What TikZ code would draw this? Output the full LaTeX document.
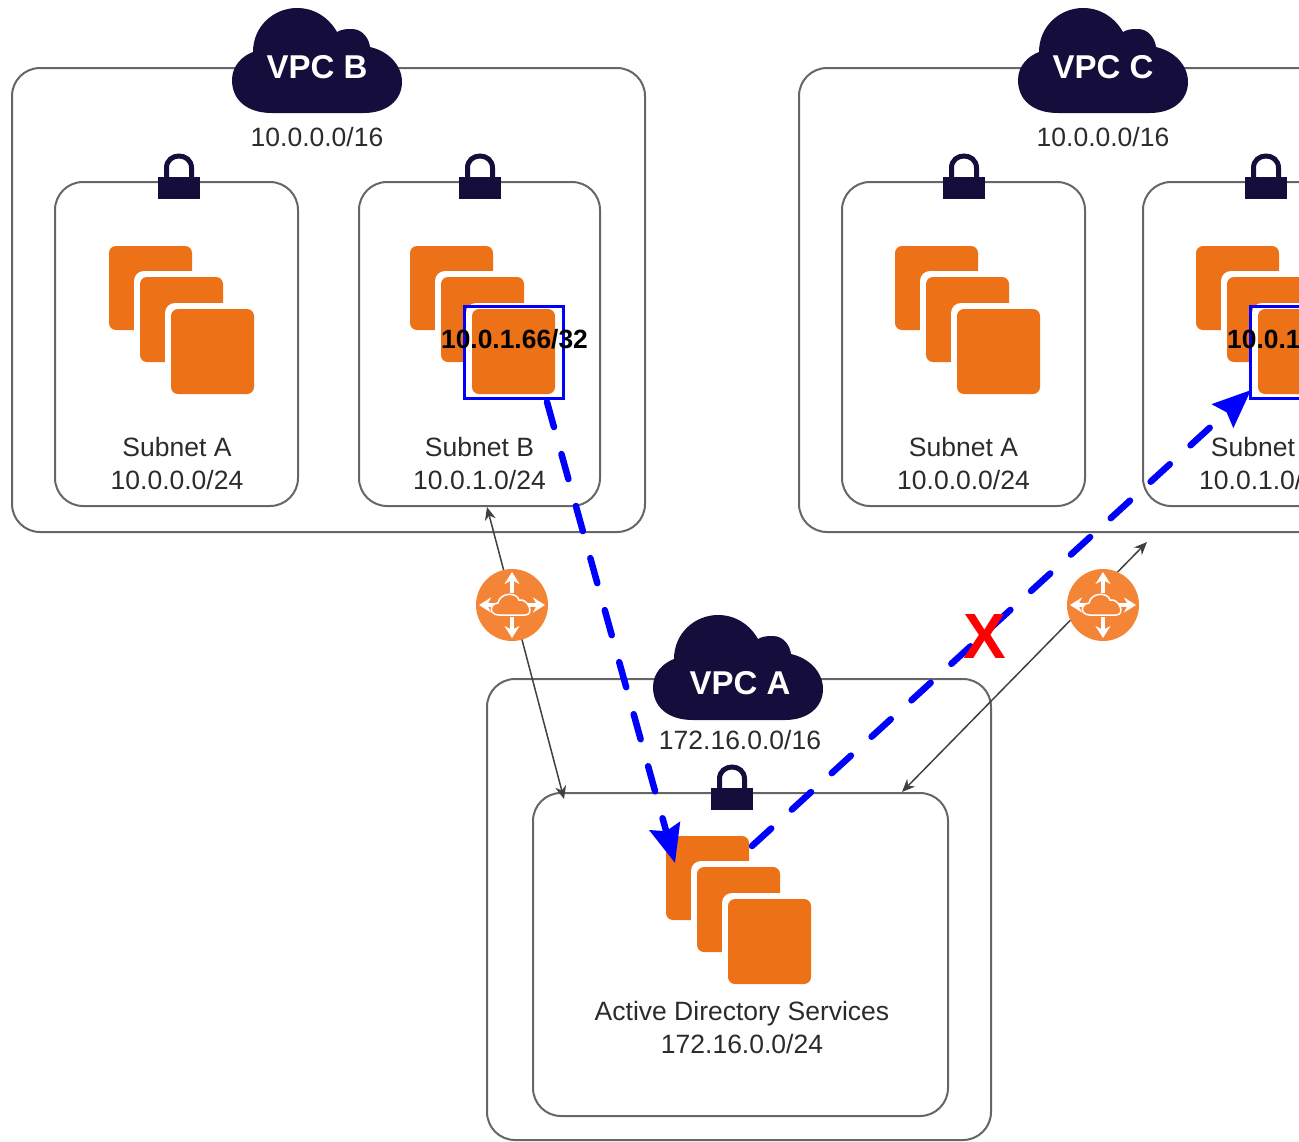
\documentclass[tikz,border=0pt]{standalone}
\usepackage{fontspec}
\setmainfont{Liberation Sans}
\usetikzlibrary{arrows.meta}
\definecolor{navy}{HTML}{150E3D}
\definecolor{ec2}{HTML}{ED7117}
\definecolor{routerfill}{HTML}{F58536}
\definecolor{boxline}{HTML}{666666}
\definecolor{txt}{HTML}{2B2B2B}
\tikzset{
  x=1pt,y=-1pt,
  boxnode/.style={draw=boxline,line width=2pt,rounded corners=28pt,inner sep=0pt,outer sep=0pt},
  lbl/.style={font=\fontsize{26.5}{33}\selectfont,text=txt,align=center,inner sep=0pt},
  vpclbl/.style={font=\fontsize{33}{36}\selectfont\bfseries,text=white,inner sep=0pt},
  iplbl/.style={font=\fontsize{26.4}{30}\selectfont\bfseries,text=black,inner sep=0pt},
  square/.style={fill=ec2,rounded corners=7pt},
  halo/.style={fill=white,rounded corners=10pt},
  link/.style={draw=black!75,line width=1.5pt,{Stealth[length=13pt,width=11pt]}-{Stealth[length=13pt,width=11pt]}},
  flow/.style={draw=blue,line width=6.5pt,line cap=round,dash pattern=on 26pt off 28pt,-{Stealth[length=38pt,width=31pt,inset=5pt]}},
  selbox/.style={draw=blue,line width=3pt,inner sep=0pt,minimum width=99pt,minimum height=92pt},
  routernode/.style={circle,fill=routerfill,inner sep=0pt,minimum size=72pt},
  vpccloud/.pic={
    \fill[navy] (40,105) .. controls (15,105) and (0,92) .. (0,72)
      .. controls (0,58) and (10,48) .. (21,44)
      .. controls (21,18) and (42,0) .. (65,0)
      .. controls (83,0) and (97,10) .. (105,24)
      .. controls (110,21) and (115,21) .. (120,21)
      .. controls (130,21) and (137,30) .. (138,39)
      .. controls (156,43) and (170,57) .. (170,74)
      .. controls (170,92) and (155,105) .. (132,105) -- cycle;
  },
  padlock/.pic={
    \fill[navy] (-21,1) rectangle (21,23);
    \draw[navy,line width=5pt] (-12.5,2) -- (-12.5,-8) .. controls (-12.5,-24) and (12.5,-24) .. (12.5,-8) -- (12.5,2);
  },
  instancestack/.pic={
    \fill[square] (0,0) rectangle (83,84);
    \fill[halo] (25,25) rectangle (120,123);
    \fill[square] (31,31) rectangle (114,116);
    \fill[halo] (56,57) rectangle (151,155);
    \fill[square] (62,63) rectangle (145,148);
  },
  routerglyph/.pic={
    \foreach \a/\b in {0/-1,0/1,-1/0,1/0}{
      \draw[white,line width=3.2pt,-{Stealth[length=12pt,width=15pt]}] (12*\a,12*\b) -- (33*\a,33*\b);
    }
    \draw[white,line width=1.5pt,fill=routerfill] (-13,10) .. controls (-23,10) and (-23,-1) .. (-14,-2)
      .. controls (-12,-13) and (5,-13) .. (7,-5)
      .. controls (16,-7) and (23,10) .. (13,10) -- cycle;
  }
}
\begin{document}
\begin{tikzpicture}
\path[clip] (0,0) rectangle (1299,1141);

% outer VPC boxes
\node[boxnode,minimum width=633pt,minimum height=464pt] (vpcb) at (328.5,300) {};
\node[boxnode,minimum width=633pt,minimum height=464pt] (vpcc) at (1115.5,300) {};
\node[boxnode,minimum width=504pt,minimum height=461pt] (vpca) at (739,909.5) {};

% subnet boxes
\node[boxnode,minimum width=243pt,minimum height=324pt] (subba) at (176.5,344) {};
\node[boxnode,minimum width=241pt,minimum height=324pt] (subbb) at (479.5,344) {};
\node[boxnode,minimum width=243pt,minimum height=324pt] (subca) at (963.5,344) {};
\node[boxnode,minimum width=241pt,minimum height=324pt] (subcb) at (1263.5,344) {};
\node[boxnode,minimum width=415pt,minimum height=323pt] (subaa) at (740.5,954.5) {};

% instances
\pic at (109,246) {instancestack};
\pic at (410,246) {instancestack};
\pic at (895,246) {instancestack};
\pic at (1196,246) {instancestack};
\pic at (666,836) {instancestack};

% selected instance frames
\node[selbox] (selb) at (514,352.5) {};
\node[selbox] (selc) at (1300,352.5) {};

% clouds
\pic at (232,8) {vpccloud};
\pic at (1018,8) {vpccloud};
\pic at (653,615) {vpccloud};
\node[vpclbl] (nameb) at (317,67) {VPC B};
\node[vpclbl] (namec) at (1103,67) {VPC C};
\node[vpclbl] (namea) at (740,683) {VPC A};

% locks
\pic at (179,176) {padlock};
\pic at (480,176) {padlock};
\pic at (964,176) {padlock};
\pic at (1266,176) {padlock};
\pic at (732,787) {padlock};

% labels
\node[lbl] (cidrb) at (317,137) {10.0.0.0/16};
\node[lbl] (cidrc) at (1103,137) {10.0.0.0/16};
\node[lbl] (cidra) at (740,740) {172.16.0.0/16};
\node[lbl] (lba) at (177,463.5) {Subnet A\\10.0.0.0/24};
\node[lbl] (lbb) at (479.5,463.5) {Subnet B\\10.0.1.0/24};
\node[lbl] (lca) at (963.5,463.5) {Subnet A\\10.0.0.0/24};
\node[lbl] (lcb) at (1265.5,463.5) {Subnet B\\10.0.1.0/24};
\node[lbl] (laa) at (742,1027.5) {Active Directory Services\\172.16.0.0/24};

% peering links
\coordinate (lt) at (487,507);
\coordinate (lb) at (564,799);
\coordinate (rt) at (1147,542);
\coordinate (rb) at (902,792);
\draw[link] (lt) -- (lb);
\draw[link] (rt) -- (rb);

% routers
\node[routernode] (rl) at (512,605) {};
\node[routernode] (rr) at (1103,605) {};
\pic at (rl) {routerglyph};
\pic at (rr) {routerglyph};

% flows
\coordinate (fa) at (547,402);
\coordinate (fb) at (675,863);
\coordinate (fc) at (752,846);
\coordinate (fd) at (1251,390);
\draw[flow] (fa) -- (fb);
\draw[flow] (fc) -- (fd);

% ip labels and cross
\node[iplbl] (ipb) at (514.5,339) {10.0.1.66/32};
\node[iplbl,anchor=west] (ipc) at (1227,339) {10.0.1.66/32};
\node[font=\fontsize{64}{64}\selectfont\bfseries,text=red,inner sep=0pt] (cross) at (985,636) {X};
\end{tikzpicture}
\end{document}
